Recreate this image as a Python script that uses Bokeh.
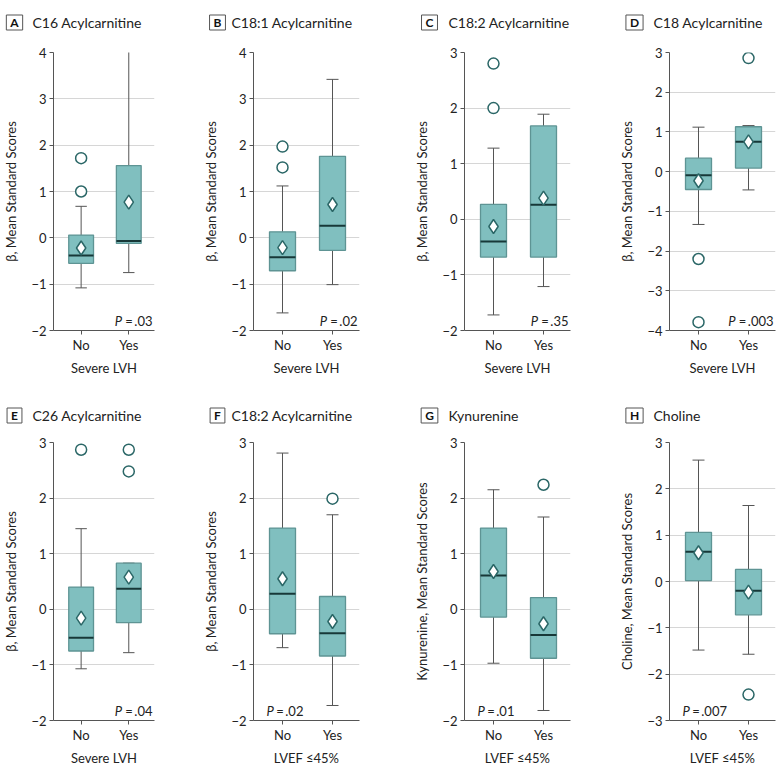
from bokeh.plotting import figure
from bokeh.models import Range1d, FixedTicker, Label, ColumnDataSource
from bokeh.layouts import row, column
from bokeh.embed import file_html
from bokeh.resources import INLINE

FONT = "Lato"

letters = ["A", "B", "C", "D", "E", "F", "G", "H"]
titles = ["C16 Acylcarnitine", "C18:1 Acylcarnitine", "C18:2 Acylcarnitine", "C18 Acylcarnitine",
          "C26 Acylcarnitine", "C18:2 Acylcarnitine", "Kynurenine", "Choline"]
groups = ["No", "Yes"]
x_labels = ["Severe LVH"] * 5 + ["LVEF ≤45%"] * 3
y_labels = ["β, Mean Standard Scores"] * 6 + ["Kynurenine, Mean Standard Scores",
                                               "Choline, Mean Standard Scores"]
y_min = [-2, -2, -2, -4, -2, -2, -2, -3]
y_max = [4, 4, 3, 3, 3, 3, 3, 3]
p_values = [".03", ".02", ".35", ".003", ".04", ".02", ".01", ".007"]
p_side = ["right"] * 5 + ["left"] * 3

# values per panel: [No, Yes]
whisker_low = [[-1.08, -0.75], [-1.62, -1.01], [-1.72, -1.21], [-1.33, -0.46],
               [-1.07, -0.78], [-0.69, -1.73], [-0.97, -1.82], [-1.48, -1.57]]
q1 = [[-0.55, -0.12], [-0.71, -0.27], [-0.68, -0.68], [-0.45, 0.09],
      [-0.75, -0.24], [-0.44, -0.84], [-0.14, -0.88], [0.02, -0.72]]
median = [[-0.38, -0.07], [-0.42, 0.26], [-0.40, 0.26], [-0.09, 0.75],
          [-0.51, 0.37], [0.28, -0.43], [0.61, -0.46], [0.64, -0.20]]
q3 = [[0.06, 1.56], [0.13, 1.76], [0.27, 1.68], [0.34, 1.13],
      [0.40, 0.83], [1.46, 0.23], [1.46, 0.21], [1.06, 0.26]]
whisker_high = [[0.68, 4.07], [1.12, 3.42], [1.28, 1.89], [1.12, 1.16],
                [1.45, 0.83], [2.81, 1.70], [2.15, 1.66], [2.62, 1.64]]
means = [[-0.22, 0.77], [-0.21, 0.72], [-0.13, 0.38], [-0.23, 0.75],
         [-0.16, 0.58], [0.55, -0.22], [0.68, -0.26], [0.62, -0.23]]
outlier_group = [["No", "No"], ["No", "No"], ["No", "No"], ["No", "No", "Yes"],
                 ["No", "Yes", "Yes"], ["Yes"], ["Yes"], ["Yes"]]
outlier_value = [[1.72, 1.0], [1.97, 1.52], [2.80, 2.0], [-2.2, -3.79, 2.86],
                 [2.87, 2.87, 2.48], [1.99], [2.24], [-2.44]]

BOX_FILL = "#80bfbf"
BOX_LINE = "#5e9494"
MED_COLOR = "#173838"
MARK_LINE = "#2b6767"
WHISK = "#555555"
TXT = "#222222"
AX = "#555555"

X_START, X_END = 0.42, 2.54
BOX_W = 0.52
CAP_W = 0.24

# per column: (figure width, left border, title box centre dx, title text dx)
col_geom = [(195, 48, -34, -16), (210, 58, -36, -22), (205, 59, -35, -16), (168, 59, -35, -16)]
TOTAL_W = sum(g[0] for g in col_geom)
FRAME_W, FRAME_H = 106, 278
TITLE_H = 36
title_cy = [14, 11]
main_heights = [354, 346]
TOP_B = 16


def char_w(s, size):
    w = 0.0
    for c in s:
        if c.isdigit() or c == "=":
            w += 0.58 * size
        elif c == ".":
            w += 0.26 * size
        elif c == "\u2009":
            w += 0.17 * size
        else:
            w += 0.5 * size
    return w


def make_title_row(ri):
    t = figure(width=TOTAL_W, height=TITLE_H, x_range=Range1d(0, TOTAL_W),
               y_range=Range1d(0, TITLE_H),
               output_backend="svg", toolbar_location=None,
               x_axis_location=None, y_axis_location=None,
               min_border=0, min_border_left=0, min_border_right=0,
               min_border_top=0, min_border_bottom=0)
    t.outline_line_color = None
    t.background_fill_color = "white"
    t.border_fill_color = "white"
    for g in t.grid:
        g.visible = False
    cy = title_cy[ri]
    x0 = 0
    for ci in range(4):
        i = ri * 4 + ci
        fw, bl, box_dx, txt_dx = col_geom[ci]
        t.add_layout(Label(x=x0 + bl + box_dx, y=cy,
                           text=letters[i], text_font=FONT, text_font_style="bold",
                           text_font_size="12px", text_color="#111111",
                           text_align="center", text_baseline="middle",
                           border_line_color="#555555", border_line_width=1,
                           background_fill_color="white", padding=(4, 0)))
        t.add_layout(Label(x=x0 + bl + txt_dx, y=cy,
                           text=titles[i], text_font=FONT, text_font_size="14px",
                           text_color=TXT, text_align="left", text_baseline="middle"))
        x0 += fw
    return t


def make_panel(i):
    ci = i % 4
    ri = i // 4
    fw, bl, _, _ = col_geom[ci]
    fh = main_heights[ri]
    br = fw - bl - FRAME_W
    bb = fh - TOP_B - FRAME_H
    p = figure(width=fw, height=fh,
               x_range=Range1d(X_START, X_END),
               y_range=Range1d(y_min[i], y_max[i]),
               output_backend="svg", toolbar_location=None,
               min_border_left=bl, min_border_right=br,
               min_border_top=TOP_B, min_border_bottom=bb)
    p.outline_line_color = None
    p.background_fill_color = "white"
    p.border_fill_color = "white"
    yt = list(range(y_min[i], y_max[i] + 1))
    p.xgrid.visible = False
    p.ygrid.ticker = FixedTicker(ticks=yt)
    p.ygrid.grid_line_color = "#d6d6d6"
    p.ygrid.grid_line_width = 1

    xpos = [k + 1 for k in range(len(groups))]
    src = ColumnDataSource(dict(
        x=xpos,
        xl=[x - BOX_W / 2 for x in xpos],
        xr=[x + BOX_W / 2 for x in xpos],
        cl=[x - CAP_W / 2 for x in xpos],
        cr=[x + CAP_W / 2 for x in xpos],
        lo=whisker_low[i], q1=q1[i], med=median[i], q3=q3[i], hi=whisker_high[i],
        mean=means[i],
    ))
    # whiskers
    p.segment(x0="x", y0="q3", x1="x", y1="hi", line_color=WHISK, line_width=1, source=src)
    p.segment(x0="x", y0="q1", x1="x", y1="lo", line_color=WHISK, line_width=1, source=src)
    p.segment(x0="cl", y0="hi", x1="cr", y1="hi", line_color=WHISK, line_width=1, source=src)
    p.segment(x0="cl", y0="lo", x1="cr", y1="lo", line_color=WHISK, line_width=1, source=src)
    # boxes
    p.vbar(x="x", width=BOX_W, bottom="q1", top="q3", fill_color=BOX_FILL,
           line_color=BOX_LINE, line_width=1.3, source=src)
    p.segment(x0="xl", y0="med", x1="xr", y1="med", line_color=MED_COLOR,
              line_width=2, source=src)
    # means
    p.scatter(x="x", y="mean", marker="diamond", size=14, fill_color="white",
              line_color=MARK_LINE, line_width=1.5, source=src)
    # outliers
    osrc = ColumnDataSource(dict(
        x=[groups.index(g) + 1 for g in outlier_group[i]],
        y=outlier_value[i]))
    p.scatter(x="x", y="y", marker="circle", size=11, fill_color="white",
              line_color=MARK_LINE, line_width=1.5, source=osrc)

    # axes
    ya = p.yaxis[0]
    ya.ticker = FixedTicker(ticks=yt)
    ya.axis_label = y_labels[i]
    ya.axis_label_text_font = FONT
    ya.axis_label_text_font_size = "13px"
    ya.axis_label_text_font_style = "normal"
    ya.axis_label_text_color = TXT
    ya.axis_label_standoff = 9
    ya.major_label_text_font = FONT
    ya.major_label_text_font_size = "13px"
    ya.major_label_text_color = TXT
    ya.major_label_standoff = 3
    ya.major_tick_out = 4
    ya.major_tick_in = 0
    ya.minor_tick_out = 0
    ya.minor_tick_in = 0
    ya.axis_line_color = AX
    ya.major_tick_line_color = AX

    xa = p.xaxis[0]
    xa.ticker = FixedTicker(ticks=xpos)
    xa.major_label_overrides = {xpos[k]: groups[k] for k in range(len(groups))}
    xa.axis_label = x_labels[i]
    xa.axis_label_text_font = FONT
    xa.axis_label_text_font_size = "13px"
    xa.axis_label_text_font_style = "normal"
    xa.axis_label_text_color = TXT
    xa.axis_label_standoff = 4
    xa.major_label_text_font = FONT
    xa.major_label_text_font_size = "13px"
    xa.major_label_text_color = TXT
    xa.major_label_standoff = 2
    xa.major_tick_out = 4
    xa.major_tick_in = 0
    xa.minor_tick_out = 0
    xa.minor_tick_in = 0
    xa.axis_line_color = AX
    xa.major_tick_line_color = AX

    # P value
    rest = "\u2009=\u2009" + p_values[i]
    fs = 13
    if p_side[i] == "right":
        rest_off = -2
        p.add_layout(Label(x=X_END, y=y_min[i], x_offset=rest_off, y_offset=10,
                           text=rest, text_font=FONT, text_font_size=f"{fs}px",
                           text_color=TXT, text_align="right", text_baseline="alphabetic"))
        p_off = rest_off - char_w(rest, fs)
        p.add_layout(Label(x=X_END, y=y_min[i], x_offset=p_off, y_offset=10,
                           text="P", text_font=FONT, text_font_size=f"{fs}px",
                           text_font_style="italic",
                           text_color=TXT, text_align="right", text_baseline="alphabetic"))
    else:
        p_off = 13
        p.add_layout(Label(x=X_START, y=y_min[i], x_offset=p_off, y_offset=10,
                           text="P", text_font=FONT, text_font_size=f"{fs}px",
                           text_font_style="italic",
                           text_color=TXT, text_align="left", text_baseline="alphabetic"))
        p.add_layout(Label(x=X_START, y=y_min[i], x_offset=p_off + 8, y_offset=10,
                           text=rest, text_font=FONT, text_font_size=f"{fs}px",
                           text_color=TXT, text_align="left", text_baseline="alphabetic"))
    return p


panels = [make_panel(i) for i in range(8)]
layout = column(make_title_row(0), row(*panels[:4], spacing=0),
                make_title_row(1), row(*panels[4:], spacing=0), spacing=0)

open("out.html", "w").write(file_html(layout, INLINE))
